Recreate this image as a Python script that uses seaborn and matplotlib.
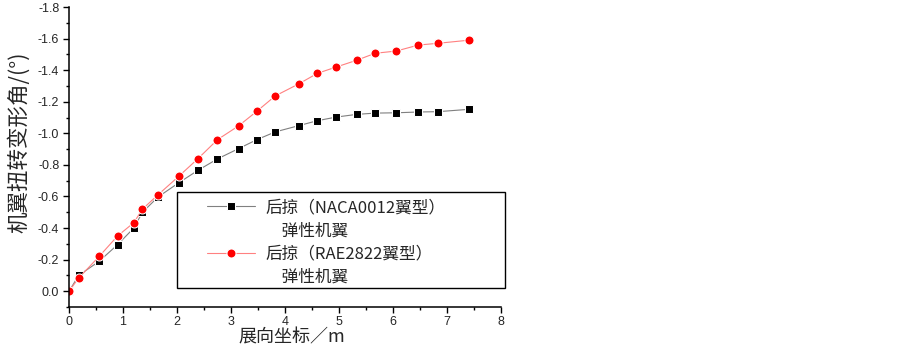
import numpy as np
import pandas as pd
import matplotlib
matplotlib.use("Agg")
import matplotlib.pyplot as plt
import seaborn as sns
from matplotlib.lines import Line2D
from matplotlib.patches import Rectangle
from matplotlib.ticker import AutoMinorLocator

# data
span = [0.0, 0.18, 0.56, 0.90, 1.20, 1.36, 1.65, 2.03, 2.39, 2.75, 3.14,
        3.48, 3.82, 4.26, 4.60, 4.95, 5.33, 5.67, 6.06, 6.47, 6.83, 7.41]
twist_naca = [0.0, -0.10, -0.19, -0.295, -0.40, -0.50, -0.597, -0.686, -0.766,
              -0.838, -0.903, -0.96, -1.009, -1.049, -1.08, -1.103, -1.12,
              -1.128, -1.13, -1.135, -1.137, -1.152]
twist_rae = [0.0, -0.084, -0.221, -0.35, -0.434, -0.52, -0.611, -0.727, -0.84,
             -0.96, -1.047, -1.14, -1.237, -1.314, -1.38, -1.42, -1.463,
             -1.507, -1.521, -1.559, -1.57, -1.59]

xticks = [0, 1, 2, 3, 4, 5, 6, 7, 8]
yticks = [-1.8, -1.6, -1.4, -1.2, -1.0, -0.8, -0.6, -0.4, -0.2, 0.0]
ytick_labels = ["-1.8", "-1.6", "-1.4", "-1.2", "-1.0", "-0.8", "-0.6",
                "-0.4", "-0.2", "0.0"]
label_naca = "后掠（NACA0012翼型）"
label_rae = "后掠（RAE2822翼型）"
label_wing = "　弹性机翼"

df = pd.DataFrame({"span": span, "naca": twist_naca, "rae": twist_rae})

sns.set_style("ticks")
plt.rcParams["font.family"] = ["Noto Sans CJK SC", "DejaVu Sans"]

fig = plt.figure(figsize=(9.03, 3.47), dpi=100)
ax = fig.add_axes([69 / 903, 1 - 307 / 347, 432 / 903, 300 / 347])

sns.lineplot(data=df, x="span", y="naca", ax=ax, color="#808080", lw=0.8,
             marker="s", markersize=5.5, markerfacecolor="black")
sns.lineplot(data=df, x="span", y="rae", ax=ax, color="#ff8080", lw=0.8,
             marker="o", markersize=6.5, markerfacecolor="red")

ax.set_xlim(0, 8)
ax.set_ylim(0.1, -1.8)
ax.set_xticks(xticks)
ax.set_xticklabels([str(v) for v in xticks], family="Liberation Sans", fontsize=9)
ax.set_yticks(yticks)
ax.set_yticklabels(ytick_labels, family="Liberation Sans", fontsize=9)
ax.xaxis.set_minor_locator(AutoMinorLocator(2))
ax.yaxis.set_minor_locator(AutoMinorLocator(2))
ax.tick_params(which="major", length=4.5, width=1, direction="out", color="black", pad=2.5)
ax.tick_params(axis="x", which="major", pad=2)
ax.tick_params(which="minor", length=2.5, width=1, direction="out", color="black")
sns.despine(ax=ax)
for s in ["left", "bottom"]:
    ax.spines[s].set_linewidth(1.1)
    ax.spines[s].set_color("black")

ax.set_xlabel("展向坐标／m", fontsize=13, va="bottom")
ax.set_ylabel("机翼扭转变形角/(°)", fontsize=15.5)
ax.xaxis.set_label_coords((292 - 69) / 432, (307 - 346) / 300)
ax.yaxis.set_label_coords(-0.09, 0.55)

lines = ax.get_lines()
blank = Line2D([], [], linestyle="none")
leg = ax.legend([lines[0], blank, lines[1], blank],
                [label_naca, label_wing, label_rae, label_wing],
                loc="upper left", bbox_to_anchor=(207 / 903, 1 - 199 / 347),
                bbox_transform=fig.transFigure, frameon=False,
                fontsize=12, handlelength=2.9, handletextpad=0.6,
                labelspacing=0.38, borderpad=0, borderaxespad=0)

fig.patches.append(Rectangle((177 / 903, 1 - 288 / 347), 328 / 903, 96 / 347,
                             transform=fig.transFigure, fill=False,
                             edgecolor="black", linewidth=1.0))

plt.savefig("out.png", dpi=100)
